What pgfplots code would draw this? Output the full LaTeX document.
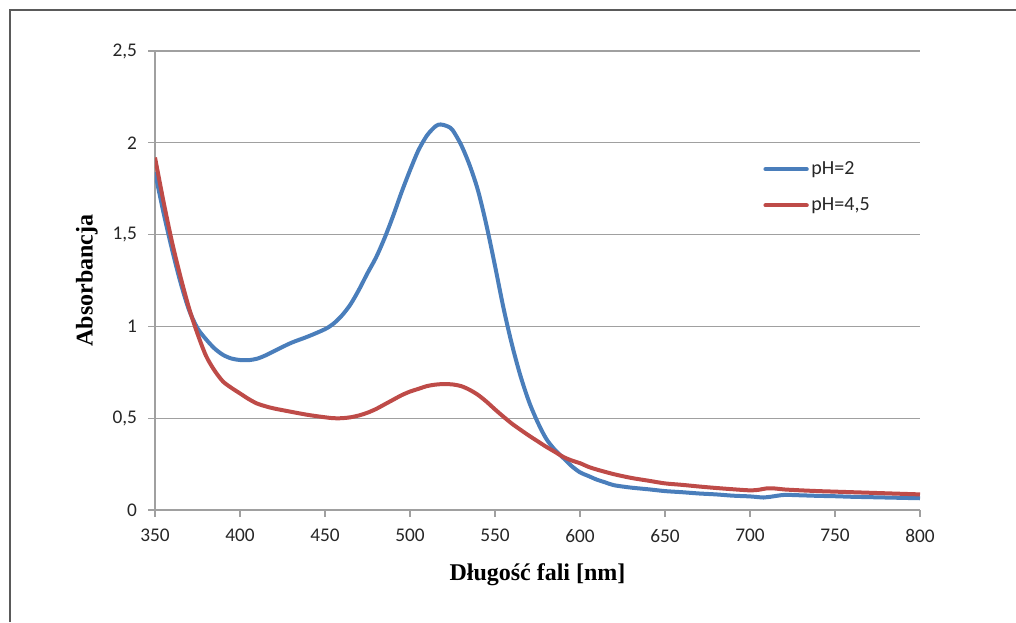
\documentclass[border=0pt]{standalone}
\usepackage{pgfplots}
\pgfplotsset{compat=1.18}
\usepackage{fontspec}
\setmainfont{Carlito}
\newfontfamily\labfont{Liberation Serif}

\definecolor{seriesblue}{RGB}{74,126,187}
\definecolor{seriesred}{RGB}{190,75,72}
\definecolor{gridgray}{RGB}{160,160,160}
\definecolor{framegray}{RGB}{90,90,90}

\pgfplotstableread{
wl a
350 1.84
355 1.62
360 1.42
365 1.24
370 1.09
375 0.99
380 0.93
385 0.88
390 0.845
395 0.825
400 0.817
405 0.816
410 0.824
415 0.842
420 0.865
430 0.91
440 0.945
450 0.985
455 1.015
460 1.06
465 1.12
470 1.20
475 1.29
480 1.375
485 1.48
490 1.60
495 1.73
500 1.85
505 1.96
510 2.04
515 2.09
518 2.10
522 2.09
525 2.07
530 1.99
535 1.88
540 1.74
545 1.55
550 1.33
555 1.10
560 0.90
565 0.73
570 0.59
575 0.48
580 0.39
585 0.33
590 0.285
595 0.24
600 0.205
605 0.185
610 0.165
615 0.15
620 0.135
630 0.122
640 0.113
650 0.103
660 0.097
670 0.09
680 0.085
690 0.078
700 0.074
708 0.068
712 0.072
720 0.082
730 0.08
740 0.077
750 0.075
760 0.072
770 0.07
780 0.068
790 0.066
800 0.064
}\phtwo

\pgfplotstableread{
wl a
350 1.92
355 1.68
360 1.46
365 1.27
370 1.10
375 0.96
380 0.84
385 0.76
390 0.70
395 0.665
400 0.635
405 0.605
410 0.58
415 0.565
420 0.553
430 0.535
440 0.518
450 0.505
455 0.50
460 0.50
465 0.505
470 0.515
475 0.53
480 0.55
485 0.575
490 0.60
495 0.625
500 0.645
505 0.66
510 0.675
515 0.683
520 0.686
525 0.684
530 0.675
535 0.655
540 0.627
545 0.59
550 0.548
555 0.508
560 0.47
565 0.437
570 0.405
575 0.375
580 0.345
585 0.318
590 0.29
595 0.27
600 0.255
605 0.235
610 0.22
620 0.195
630 0.175
640 0.16
650 0.145
660 0.137
670 0.128
680 0.12
690 0.113
700 0.107
705 0.11
710 0.118
715 0.117
720 0.112
730 0.107
740 0.103
750 0.10
760 0.097
770 0.094
780 0.091
790 0.088
800 0.085
}\phfour

\begin{document}
\begin{tikzpicture}
\useasboundingbox (-116.25pt,-84pt) rectangle (645.75pt,382.5pt);
\draw[framegray, line width=1.5pt] (-108.75pt,-84pt) -- (-108.75pt,375pt) -- (645.75pt,375pt);
\begin{axis}[
    at={(0,0)}, anchor=south west,
    scale only axis,
    width=573.75pt, height=344.25pt,
    xmin=350, xmax=800, ymin=0, ymax=2.5,
    axis x line*=bottom, axis y line*=left,
    axis line style={gridgray, line width=0.8pt},
    xtick={350,400,...,800},
    ytick={0,0.5,1,1.5,2,2.5},
    yticklabels={0,{0,5},1,{1,5},2,{2,5}},
    /pgf/number format/assume math mode=true,
    tick align=outside,
    major tick length=5pt,
    tick style={gridgray, line width=0.8pt},
    ymajorgrids,
    grid style={gridgray, line width=0.8pt},
    ticklabel style={font=\fontsize{14.5}{17}\selectfont, text=black!85},
    xticklabel style={yshift=-6pt},
    yticklabel style={xshift=-5pt},
    xlabel={Długość fali [nm]},
    ylabel={Absorbancja},
    label style={font=\labfont\bfseries\fontsize{18}{21}\selectfont},
    xlabel style={at={(axis description cs:0.5,-0.14)}, anchor=center},
    ylabel style={at={(axis description cs:-0.089,0.5)}, anchor=center},
    legend style={at={(axis description cs:0.795,0.703)}, anchor=west,
        draw=none, fill=none, inner sep=0pt, row sep=12pt,
        font=\fontsize{15}{18}\selectfont, text=black!85},
    legend cell align=left,
    legend image code/.code={\draw[#1, line width=3pt, line cap=round] (0pt,0pt) -- (31pt,0pt);},
]
\addplot[seriesblue, line width=3pt, smooth, tension=0.5] table[x=wl, y=a] {\phtwo};
\addlegendentry{pH=2}
\addplot[seriesred, line width=3pt, smooth, tension=0.5] table[x=wl, y=a] {\phfour};
\addlegendentry{pH=4,5}
\end{axis}
\end{tikzpicture}
\end{document}
